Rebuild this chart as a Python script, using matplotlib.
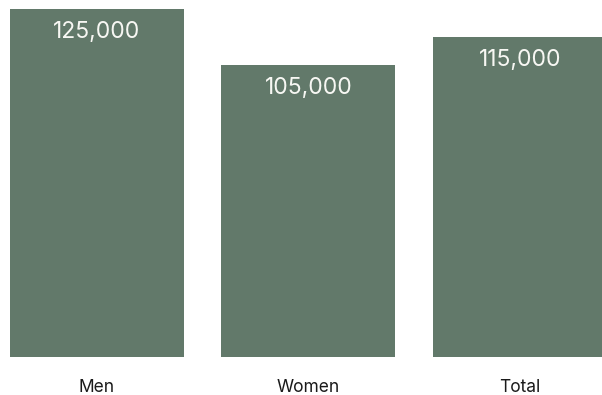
import matplotlib
matplotlib.use("Agg")
import matplotlib.pyplot as plt

categories = ["Men", "Women", "Total"]
values = [125000, 105000, 115000]
labels = ["125,000", "105,000", "115,000"]

W, H = 602, 395
fig = plt.figure(figsize=(W / 100, H / 100), dpi=100)
ax = fig.add_axes([0, (H - 357) / H, 1, (357 - 9) / H])

x = list(range(len(categories)))
bw = 174 / 211.5
ax.bar(x, values, width=bw, color="#62796a")
ax.set_ylim(0, 125000)
ax.set_xlim(-0.4586, -0.4586 + W / 211.5)

for xi, v, lab in zip(x, values, labels):
    ax.annotate(lab, (xi, v), xytext=(0, -23), textcoords="offset pixels",
                ha="center", va="center", color="#f7f7f3", fontsize=16.5,
                family="Inter")
    ax.annotate(categories[xi], (xi, 0), xytext=(0, -30), textcoords="offset pixels",
                ha="center", va="center", color="#1a1a1a", fontsize=12.5,
                family="Inter")

ax.axis("off")
fig.savefig("out.png", dpi=100)
